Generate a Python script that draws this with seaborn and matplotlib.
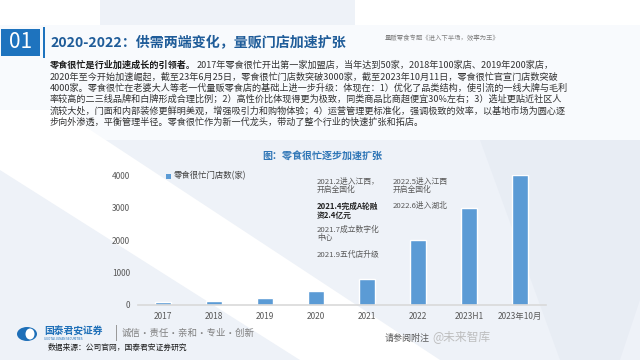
import matplotlib
matplotlib.use('Agg')
import matplotlib.pyplot as plt
import seaborn as sns
import pandas as pd
from matplotlib.patches import Polygon, Rectangle, Ellipse

# ---------------- data ----------------
categories = ['2017', '2018', '2019', '2020', '2021', '2022', '2023H1', '2023年10月']
stores = [80, 130, 220, 420, 800, 2000, 3000, 4000]
y_ticks = [0, 1000, 2000, 3000, 4000]
series_name = '零食很忙门店数(家)'
chart_title = '图：零食很忙逐步加速扩张'
notes_2021 = ['2021.2进入江西，\n开启全国化', '2021.4完成A轮融\n资2.4亿元', '2021.7成立数字化\n中心', '2021.9五代店升级']
notes_2022 = ['2022.5进入江西\n开启全国化', '2022.6进入湖北']
page_no = '01'
page_title = '2020-2022：供需两端变化，量贩门店加速扩张'
header_right = '量贩零食专题《进入下半场，效率为王》'
body_bold = '零食很忙是行业加速成长的引领者。'
body_lines = [
    '2017年零食很忙开出第一家加盟店，当年达到50家，2018年100家店、2019年200家店，',
    '2020年至今开始加速崛起，截至23年6月25日，零食很忙门店数突破3000家，截至2023年10月11日，零食很忙官宣门店数突破',
    '4000家。零食很忙在老婆大人等老一代量贩零食店的基础上进一步升级：体现在：1）优化了品类结构，使引流的一线大牌与毛利',
    '率较高的二三线品牌和白牌形成合理比例；2）高性价比体现得更为极致，同类商品比商超便宜30%左右；3）选址更贴近社区人',
    '流较大处，门面和内部装修更鲜明美观，增强吸引力和购物体验；4）运营管理更标准化，强调极致的效率，以基地市场为圆心逐',
    '步向外渗透，平衡管理半径。零食很忙作为新一代龙头，带动了整个行业的快速扩张和拓店。',
]
company = '国泰君安证券'
company_en = 'GUOTAI JUNAN SECURITIES'
motto = '诚信·责任·亲和·专业·创新'
source = '数据来源：公司官网，国泰君安证券研究'
disclaimer = '请参阅附注'
watermark = '@未来智库'

# ---------------- style ----------------
sns.set_theme(style='white')
plt.rcParams['font.family'] = ['Noto Sans CJK SC', 'DejaVu Sans']

W, H = 640, 360
fig = plt.figure(figsize=(6.4, 3.6), dpi=100)
fig.patch.set_facecolor('#eef2f8')


def P(x, y):
    return (x / W, 1 - y / H)


def poly(pts, color, z=-10, alpha=1.0):
    fig.patches.append(Polygon([P(*p) for p in pts], closed=True, transform=fig.transFigure,
                               facecolor=color, edgecolor='none', zorder=z, alpha=alpha))


# background shapes
poly([(0, 0), (100, 0), (100, 25), (0, 25)], '#ffffff')
poly([(355, 0), (640, 0), (640, 25), (355, 25)], '#ffffff')
poly([(0, 25), (640, 25), (640, 140), (0, 140)], '#f8fafd')
poly([(0, 110), (60, 110), (440, 360), (300, 360), (0, 170)], '#ffffff')
poly([(480, 140), (640, 140), (640, 300), (620, 360), (560, 360)], '#e6ebf3', alpha=0.7)

# ---------------- chart ----------------
ax = fig.add_axes([137.5 / W, 55 / H, 408 / W, 130 / H])
ax.patch.set_alpha(0)
df = pd.DataFrame({'category': categories, 'stores': stores})
sns.barplot(data=df, x='category', y='stores', color='#5b9bd5', saturation=1,
            width=0.33, ax=ax)
ax.set_ylim(0, 4000)
ax.set_xlim(-0.5, len(categories) - 0.5)
ax.set_yticks(y_ticks)
ax.set_yticklabels([str(v) for v in y_ticks])
ax.set_xlabel('')
ax.set_ylabel('')
for s in ['top', 'right', 'left']:
    ax.spines[s].set_visible(False)
ax.spines['bottom'].set_color('#d9d9d9')
ax.spines['bottom'].set_linewidth(1.2)
ax.tick_params(axis='both', length=0, labelsize=6, colors='#595959')
ax.tick_params(axis='y', pad=5.5)
ax.tick_params(axis='x', pad=5)

# legend
fig.patches.append(Rectangle(P(166, 178.5), 5 / W, 5 / H, transform=fig.transFigure,
                             facecolor='#5b9bd5', edgecolor='none'))
fig.text(*P(174, 176), series_name, fontsize=6, color='#404040', va='center', ha='left')

# chart title
fig.text(*P(322, 157), chart_title, fontsize=7.2, color='#2e75b6', ha='center', va='center',
         fontweight='bold')

# annotations
ys = [178, 202, 226, 251]
for i, (t, y) in enumerate(zip(notes_2021, ys)):
    fig.text(*P(317, y), t, fontsize=5.6, color='#262626' if i == 1 else '#595959',
             fontweight='bold' if i == 1 else 'normal', va='top', ha='left', linespacing=1.0)
for t, y in zip(notes_2022, [178, 202]):
    fig.text(*P(393, y), t, fontsize=5.6, color='#595959', va='top', ha='left', linespacing=1.0)

# ---------------- header ----------------
fig.patches.append(Rectangle(P(1, 56), 39 / W, 27 / H, transform=fig.transFigure,
                             facecolor='#1e73be', edgecolor='none'))
fig.patches.append(Rectangle(P(42.5, 58), 2.5 / W, 31 / H, transform=fig.transFigure,
                             facecolor='#1e73be', edgecolor='none'))
fig.text(*P(20.5, 42.5), page_no, fontsize=15, color='white', ha='center', va='center')
fig.text(*P(50, 43), page_title, fontsize=10.1, color='#1f5c99', ha='left', va='center',
         fontweight='bold')
fig.text(*P(385, 38), header_right, fontsize=4.6, color='#7f7f7f', ha='left', va='center')

# body paragraph
FS = 6.55
line_y = [65, 76.5, 88, 99.5, 111, 122.5]
bt = fig.text(*P(50, line_y[0]), body_bold, fontsize=FS, color='#1a1a1a', fontweight='bold',
              ha='left', va='center')
fig.canvas.draw()
bb = bt.get_window_extent()
fig.text(bb.x1 / W + 1 / W, P(0, line_y[0])[1], body_lines[0], fontsize=FS, color='#333333',
         ha='left', va='center')
for t, y in zip(body_lines[1:], line_y[1:]):
    fig.text(*P(50, y), t, fontsize=FS, color='#333333', ha='left', va='center')

# ---------------- footer ----------------
fig.patches.append(Ellipse(P(27, 334), 20 / W, 14 / H, transform=fig.transFigure,
                           facecolor='#1e6fb8', edgecolor='none'))
fig.patches.append(Ellipse(P(30, 334), 9 / W, 11 / H, transform=fig.transFigure,
                           facecolor='white', edgecolor='none'))
fig.text(*P(44, 332), company, fontsize=7, color='#1e6fb8', fontweight='bold', ha='left', va='center')
fig.text(*P(44, 339.5), company_en, fontsize=2.2, color='#1e6fb8', ha='left', va='center')
fig.patches.append(Rectangle(P(116, 341), 0.8 / W, 16 / H, transform=fig.transFigure,
                             facecolor='#9a9a9a', edgecolor='none'))
fig.text(*P(122, 333), motto, fontsize=6.8, color='#7f7f7f', ha='left', va='center')
fig.text(*P(48, 347.5), source, fontsize=5.6, color='#1a1a1a', ha='left', va='center')
fig.text(*P(385, 338), disclaimer, fontsize=6.5, color='#595959', ha='left', va='center')
fig.text(*P(432, 338), watermark, fontsize=8.5, color='#b8b8b8', ha='left', va='center', alpha=0.9)

fig.savefig('out.png', dpi=100, facecolor=fig.get_facecolor())
